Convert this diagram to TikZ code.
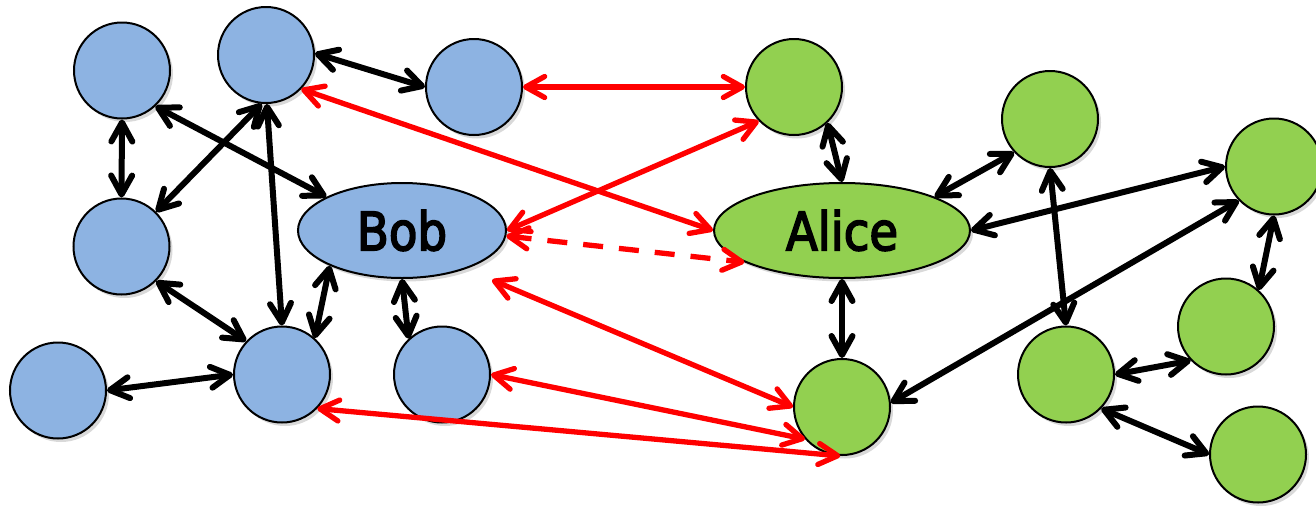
\documentclass[tikz,border=0pt]{standalone}
\usepackage{fontspec}
\setmainfont{DejaVu Sans}[FakeStretch=0.88,FakeBold=3]
\usetikzlibrary{arrows.meta,shapes.geometric,shadows}
\definecolor{peerblue}{HTML}{8DB3E2}
\definecolor{peergreen}{HTML}{92D050}
\definecolor{trustred}{HTML}{FF0000}
\tikzset{
  soft shadow/.style={drop shadow={shadow xshift=3pt,shadow yshift=-3.5pt,opacity=0.3}},
  peer/.style={circle,draw=black,line width=2pt,minimum size=96pt,inner sep=0pt,soft shadow},
  bluepeer/.style={peer,fill=peerblue},
  greenpeer/.style={peer,fill=peergreen},
  named/.style={ellipse,draw=black,line width=2pt,minimum height=95pt,inner sep=0pt,
    font=\fontsize{53}{60}\selectfont,soft shadow},
  link/.style={<->,line width=6pt,draw=black},
  trust/.style={<->,line width=5.3pt,draw=trustred},
  weaktrust/.style={trust,dash pattern=on 20pt off 16pt},
}
\begin{document}
\begin{tikzpicture}[x=1pt,y=-1pt,>={Straight Barb[length=19pt,width=21pt,round]}]
\useasboundingbox (0,0) rectangle (1316,507);

% Bob's side
\node[bluepeer] (B1) at (122,70.5) {};
\node[bluepeer] (B2) at (266,55) {};
\node[bluepeer] (B3) at (474,87) {};
\node[bluepeer] (B4) at (121.5,246.5) {};
\node[bluepeer] (B5) at (58,390.5) {};
\node[bluepeer] (B6) at (282,374.5) {};
\node[bluepeer] (B7) at (442,374.5) {};
\node[named,fill=peerblue,minimum width=208pt] (Bob) at (402,230.5) {Bob};

% Alice's side
\node[greenpeer] (G1) at (794,87) {};
\node[greenpeer] (G2) at (1050,119) {};
\node[greenpeer] (G3) at (1274,166.5) {};
\node[greenpeer] (G4) at (842,407) {};
\node[greenpeer] (G5) at (1066,374.5) {};
\node[greenpeer] (G6) at (1226,326.5) {};
\node[greenpeer] (G7) at (1258,454.5) {};
\node[named,fill=peergreen,minimum width=256pt] (Alice) at (842,230.5) {Alice};

\coordinate (bobtip) at (492,280);

% links inside each group
\draw[link] (B1.south) -- (B4.north);
\draw[link] (B1.-47) -- (Bob.156);
\draw[link] (B2.2) -- (B3.180);
\draw[link] (B4.45) -- (B2.-95);
\draw[link] (B2.-89) -- (B6.north);
\draw[link] (B4.-45) -- (B6.137);
\draw[link] (B5.east) -- (B6.west);
\draw[link] (Bob.206) -- (B6.48);
\draw[link] (Bob.south) -- (B7.133);

\draw[link] (G1.-47) -- (Alice.north);
\draw[link] (G2.-137) -- (Alice.20);
\draw[link] (Alice.east) -- (G3.west);
\draw[link] (G3.224) -- (G4.5);
\draw[link] (Alice.south) -- (G4.north);
\draw[link] (G2.south) -- (G5.north);
\draw[link] (G3.south) -- (G6.48);
\draw[link] (G5.east) -- (G6.224);
\draw[link] (G5.-44) -- (G7.west);

% links across the two groups
\draw[trust] (B2.-44) -- (Alice.west);
\draw[trust] (B3.east) -- (G1.west);
\draw[trust] (Bob.east) -- (G1.-136);
\draw[weaktrust] (Bob.-3) -- (Alice.198.5);
\draw[trust] (bobtip) -- (G4.west);
\draw[trust] (B7.east) -- (G4.221);
\draw[trust] (B6.-44) -- (G4.-92);
\end{tikzpicture}
\end{document}
